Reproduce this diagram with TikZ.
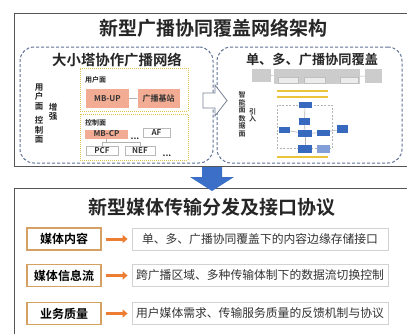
\documentclass[tikz,border=0pt]{standalone}
\usepackage{fontspec}
\setmainfont{Noto Sans CJK SC}[BoldFont={Noto Sans CJK SC Bold}]
\usetikzlibrary{arrows.meta}
\definecolor{framegray}{RGB}{85,85,85}
\definecolor{panelblue}{RGB}{95,115,150}
\definecolor{planeyellow}{RGB}{225,195,80}
\definecolor{salmon}{RGB}{242,172,148}
\definecolor{blockblue}{RGB}{55,105,190}
\definecolor{lightblock}{RGB}{130,160,215}
\definecolor{barsyellow}{RGB}{236,196,60}
\definecolor{tanframe}{RGB}{212,160,100}
\definecolor{orangec}{RGB}{236,125,50}
\definecolor{arrowblue}{RGB}{60,112,200}
\definecolor{hollowgray}{RGB}{120,130,150}
\tikzset{
  outer/.style={draw=framegray, line width=1.2pt, inner sep=0pt},
  panel/.style={draw=panelblue, dash pattern=on 3pt off 2pt, line width=1pt, rounded corners=14pt, inner sep=0pt},
  plane/.style={draw=planeyellow, dash pattern=on 1pt off 1pt, line width=1pt, inner sep=0pt},
  salmonbox/.style={fill=salmon, draw=none, inner sep=0pt, text=black!80, font=\bfseries\fontsize{8}{8}\selectfont},
  whitebox/.style={draw=gray!55, line width=0.6pt, fill=white, inner sep=0pt, text=black!80, font=\bfseries\fontsize{8}{8}\selectfont},
  planelabel/.style={inner sep=0pt, anchor=west, text=black!85, font=\bfseries\fontsize{7}{7}\selectfont},
  vtext/.style={align=center, inner sep=0pt, text=black!85, font=\bfseries\fontsize{8.5}{9.5}\selectfont},
  vtextsmall/.style={align=center, inner sep=0pt, text=black!80, font=\bfseries\fontsize{7}{7.5}\selectfont},
  graybox/.style={fill=gray!40, draw=none, inner sep=0pt},
  subgray/.style={fill=gray!15, draw=gray!50, line width=0.3pt, inner sep=0pt},
  blueblk/.style={fill=blockblue, draw=none, inner sep=0pt},
  link/.style={draw=gray!60, line width=0.6pt},
  ybar/.style={draw=barsyellow, line width=2.5pt},
  rowlabel/.style={draw=tanframe, line width=1.2pt, fill=white, minimum width=74pt, minimum height=22pt, inner sep=0pt, font=\bfseries\fontsize{12}{12}\selectfont},
  rowtext/.style={draw=gray!35, line width=0.8pt, fill=white, minimum width=256pt, minimum height=22pt, inner sep=0pt, text=black!80, font=\fontsize{11.8}{11.8}\selectfont},
  orangearrow/.style={draw=orangec, line width=3pt, -{Triangle[length=5pt,width=8pt]}, shorten <=4pt, shorten >=4pt},
}
\begin{document}
\begin{tikzpicture}[x=1pt,y=-1pt]
\useasboundingbox (0,0) rectangle (407,333);
\clip (0,0) rectangle (407,333);
\fill[white] (0,0) rectangle (407,333);

% ---------- top frame ----------
\node[outer, minimum width=406pt, minimum height=153pt, anchor=north west] (topbox) at (14,13) {};
\node[inner sep=0pt, font=\bfseries\fontsize{19}{19}\selectfont, text=black!85] (toptitle) at (213,28) {新型广播协同覆盖网络架构};

% panels
\node[panel, minimum width=193pt, minimum height=116pt] (lp) at (116.5,105) {};
\node[panel, minimum width=185pt, minimum height=116pt] (rp) at (309.5,105) {};
\node[inner sep=0pt, font=\bfseries\fontsize{14.4}{14.4}\selectfont, text=black!85] (lptitle) at (117,60) {大小塔协作广播网络};
\node[inner sep=0pt, font=\bfseries\fontsize{13.2}{13.2}\selectfont, text=black!85] (rptitle) at (312,60) {单、多、广播协同覆盖};

% left vertical labels
\node[vtext] (yhm) at (39,97) {用\\户\\面};
\node[vtext] (kzm) at (39,130) {控\\制\\面};
\node[vtext] (zq) at (53,112) {增\\强};

% user plane
\node[plane, minimum width=108pt, minimum height=43pt] (up) at (134,89.5) {};
\node[planelabel] (uplabel) at (85,80) {用户面};
\node[salmonbox, minimum width=43pt, minimum height=19pt] (mbup) at (107.5,98.5) {MB-UP};
\node[salmonbox, minimum width=42pt, minimum height=19pt] (bs) at (158.5,98.5) {广播基站};
\draw[link] (mbup) -- (bs);

% control plane
\node[plane, minimum width=108pt, minimum height=46pt] (cp) at (134,137) {};
\node[planelabel] (cplabel) at (85,123) {控制面};
\node[salmonbox, minimum width=43pt, minimum height=9pt] (mbcp) at (106.5,134) {MB-CP};
\node[whitebox, minimum width=27pt, minimum height=9pt] (af) at (156.5,132.5) {AF};
\node[whitebox, minimum width=32pt, minimum height=9pt] (pcf) at (102,150.5) {PCF};
\node[whitebox, minimum width=30pt, minimum height=9pt] (nef) at (140,150.5) {NEF};
\coordinate (busl) at (102,142);
\coordinate (busr) at (140,142);
\draw[link] (mbcp.south) -- (mbcp.south |- busl);
\draw[link] (busl) -- (busr);
\draw[link] (busl) -- (pcf.north);
\draw[link] (busr) -- (nef.north);
\node[inner sep=0pt, font=\bfseries\fontsize{9}{9}\selectfont, text=black!85] (dots1) at (135,138.5) {...};
\node[inner sep=0pt, font=\bfseries\fontsize{9}{9}\selectfont, text=black!85] (dots2) at (167,155.5) {...};

% hollow arrow
\draw[draw=hollowgray, fill=white, line width=0.8pt, line join=miter]
  (203,93) -- (215,93) -- (215,85) -- (227,100.5) -- (215,116) -- (215,108) -- (203,108) -- cycle;

% right panel content
\node[vtextsmall] (znm) at (242,102.5) {智\\能\\面};
\node[vtextsmall] (sjm) at (242,126) {数\\据\\面};
\node[vtextsmall] (yr) at (252.5,115.5) {引\\入};

\node[graybox, minimum width=19pt, minimum height=13pt] (g1) at (261.5,75.5) {};
\node[graybox, minimum width=86pt, minimum height=15pt] (g2) at (317,76.5) {};
\node[subgray, minimum width=20pt, minimum height=6pt] (s1) at (288,80.5) {};
\node[subgray, minimum width=21pt, minimum height=6pt] (s2) at (314.5,80.5) {};
\node[subgray, minimum width=18pt, minimum height=6pt] (s3) at (349,80.5) {};
\node[graybox, minimum width=17pt, minimum height=14pt] (g3) at (373.5,76) {};
\draw[link, line width=0.4pt] (g1) -- (g2);
\draw[link, line width=0.4pt] (g2) -- (g3);

\draw[ybar] (277,91) -- (328,91);
\draw[ybar] (277,97) -- (328,97);
\draw[ybar] (277,157) -- (328,157);

\draw[gray!60, dash pattern=on 2pt off 1.5pt, line width=0.6pt] (277,105) rectangle (332,148);
\node[blueblk, minimum width=13pt, minimum height=6pt] (b1) at (305,105) {};
\node[blueblk, minimum width=11pt, minimum height=7pt] (b2) at (304.5,121.5) {};
\node[blueblk, minimum width=11pt, minimum height=6pt] (b3) at (284.5,130) {};
\node[blueblk, minimum width=14pt, minimum height=7pt] (b4) at (305,133.5) {};
\node[blueblk, minimum width=13pt, minimum height=6pt] (b5) at (323.5,132.5) {};
\node[blueblk, minimum width=11pt, minimum height=8pt] (b6) at (342.5,129) {};
\node[blueblk, minimum width=14pt, minimum height=8pt] (b7) at (305,149) {};
\node[fill=lightblock, draw=none, inner sep=0pt, minimum width=13pt, minimum height=8pt] (b8) at (323.5,149) {};
\draw[link] (b1) -- (b2);
\draw[link] (b2) -- (b4);
\draw[link] (b3) -- (b4);
\draw[link] (b4) -- (b5);
\draw[link] (b5) -- (b6);
\draw[link] (b4) -- (b7);

% ---------- bottom frame ----------
\node[outer, minimum width=406pt, minimum height=170pt, anchor=north west] (botbox) at (14,188) {};
\fill[arrowblue] (202,167) -- (222,167) -- (222,177) -- (234,177) -- (212,191) -- (190,177) -- (202,177) -- cycle;
\node[inner sep=0pt, font=\bfseries\fontsize{19}{19}\selectfont, text=black!85] (bottitle) at (212,207) {新型媒体传输分发及接口协议};

\node[rowlabel] (l1) at (64,239) {媒体内容};
\node[rowlabel] (l2) at (64,275.5) {媒体信息流};
\node[rowlabel] (l3) at (64,313.5) {业务质量};
\node[rowtext] (t1) at (260,239) {单、多、广播协同覆盖下的内容边缘存储接口};
\node[rowtext] (t2) at (260,275.5) {跨广播区域、多种传输体制下的数据流切换控制};
\node[rowtext] (t3) at (260,313.5) {用户媒体需求、传输服务质量的反馈机制与协议};
\draw[orangearrow] (l1) -- (t1);
\draw[orangearrow] (l2) -- (t2);
\draw[orangearrow] (l3) -- (t3);
\end{tikzpicture}
\end{document}
